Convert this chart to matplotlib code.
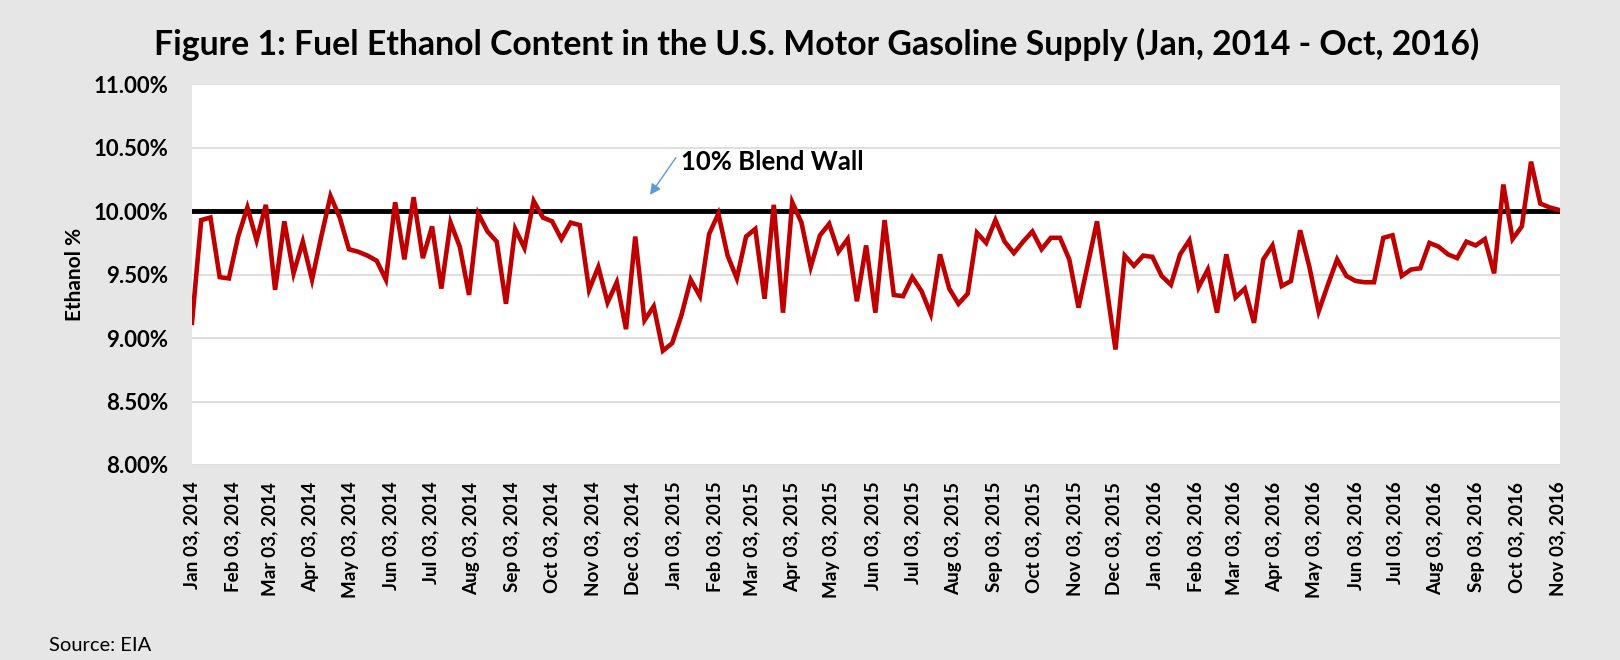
import numpy as np
import pandas as pd
import matplotlib
matplotlib.use("Agg")
import matplotlib.pyplot as plt
import matplotlib.dates as mdates
from matplotlib.ticker import FuncFormatter

# weekly ethanol share of motor gasoline supply (%), EIA
start_week = "2014-01-03"
ethanol_pct = [
    9.12, 9.93, 9.95, 9.48, 9.47, 9.80, 10.03, 9.77, 10.05, 9.38,
    9.92, 9.51, 9.76, 9.46, 9.80, 10.12, 9.95, 9.70, 9.68, 9.65,
    9.61, 9.46, 10.07, 9.62, 10.11, 9.63, 9.88, 9.39, 9.91, 9.72,
    9.34, 9.98, 9.84, 9.76, 9.27, 9.86, 9.71, 10.08, 9.95, 9.92,
    9.78, 9.91, 9.89, 9.38, 9.56, 9.28, 9.44, 9.07, 9.80, 9.14,
    9.25, 8.90, 8.96, 9.18, 9.46, 9.33, 9.82, 9.98, 9.65, 9.47,
    9.80, 9.86, 9.31, 10.05, 9.20, 10.07, 9.91, 9.56, 9.81, 9.90,
    9.68, 9.78, 9.29, 9.73, 9.20, 9.93, 9.34, 9.33, 9.48, 9.37,
    9.19, 9.66, 9.39, 9.27, 9.35, 9.83, 9.75, 9.93, 9.76, 9.67,
    9.76, 9.84, 9.70, 9.79, 9.79, 9.62, 9.24, 9.58, 9.92, 9.42,
    8.91, 9.65, 9.57, 9.65, 9.64, 9.49, 9.42, 9.66, 9.77, 9.40,
    9.54, 9.20, 9.66, 9.32, 9.39, 9.12, 9.62, 9.73, 9.41, 9.45,
    9.85, 9.56, 9.21, 9.42, 9.62, 9.49, 9.45, 9.44, 9.44, 9.79,
    9.81, 9.49, 9.54, 9.55, 9.75, 9.72, 9.66, 9.63, 9.76, 9.73,
    9.78, 9.51, 10.21, 9.78, 9.88, 10.39, 10.06, 10.03, 10.01,
]
blend_wall = 10.0
y_ticks = [8.0, 8.5, 9.0, 9.5, 10.0, 10.5, 11.0]

weeks = pd.date_range(start_week, periods=len(ethanol_pct), freq="7D")
month_ticks = pd.date_range("2014-01-01", "2016-11-01", freq="MS") + pd.Timedelta(days=2)

font = ["Lato", "DejaVu Sans"]
plt.rcParams["font.family"] = font
bg = "#E6E6E6"

fig = plt.figure(figsize=(16.2, 6.6), dpi=100, facecolor=bg)
ax = fig.add_axes([0.1185, 0.2955, 0.8445, 0.5768])
ax.set_facecolor("white")

ax.plot(weeks, ethanol_pct, color="#C00000", lw=3.3, solid_joinstyle="miter", zorder=3)
ax.axhline(blend_wall, color="black", lw=3.5, zorder=2)

ax.set_ylim(8.0, 11.0)
ax.set_yticks(y_ticks)
ax.yaxis.set_major_formatter(FuncFormatter(lambda v, p: f"{v:.2f}%"))
ax.set_xlim(weeks[0], pd.Timestamp("2016-11-05"))
ax.set_xticks(month_ticks)
ax.xaxis.set_major_formatter(mdates.DateFormatter("%b %d, %Y"))

for lab in ax.get_xticklabels():
    lab.set_rotation(90)
    lab.set_fontweight("bold")
    lab.set_fontsize(13.6)
for lab in ax.get_yticklabels():
    lab.set_fontweight("bold")
    lab.set_fontsize(16)

ax.tick_params(axis="x", length=0, pad=12)
ax.tick_params(axis="y", length=0, pad=17)
ax.grid(axis="y", color="#D9D9D9", lw=1.2)
ax.set_axisbelow(True)
for s in ax.spines.values():
    s.set_visible(False)

ax.set_ylabel("Ethanol %", fontsize=15, fontweight="bold", labelpad=6)

ax.annotate("", xy=(pd.Timestamp("2014-12-15"), 10.11),
            xytext=(pd.Timestamp("2015-01-06"), 10.44),
            arrowprops=dict(arrowstyle="-|>", color="#5B9BD5", lw=1, mutation_scale=16))
ax.text(pd.Timestamp("2015-01-09"), 10.39, "10% Blend Wall", fontsize=18.5,
        fontweight="bold", va="center", ha="left")

fig.text(0.504, 0.933, "Figure 1: Fuel Ethanol Content in the U.S. Motor Gasoline Supply (Jan, 2014 - Oct, 2016)",
         ha="center", va="center", fontsize=24.3, fontweight="bold")
fig.text(0.030, 0.0227, "Source: EIA", fontsize=14.5, ha="left", va="center")

fig.savefig("out.png", dpi=100, facecolor=bg)
